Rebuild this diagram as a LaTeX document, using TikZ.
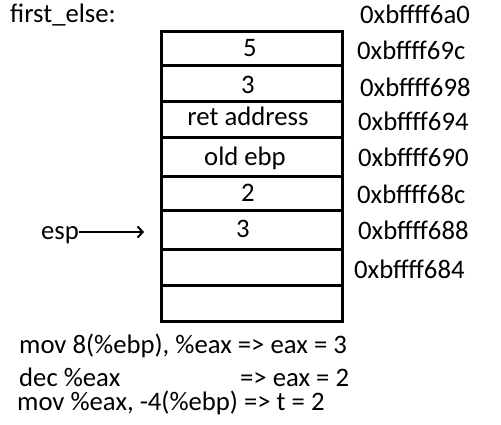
\documentclass[tikz,border=0pt]{standalone}
\usepackage{fontspec}
\setmainfont{Carlito}
\usetikzlibrary{arrows.meta}
\begin{document}
\begin{tikzpicture}[x=1pt,y=-1pt,
  txt/.style={inner sep=0pt,font=\fontsize{26.7}{32}\selectfont,anchor=base west},
  ctxt/.style={txt,anchor=base},
  cellline/.style={line width=3pt},
  ptr/.style={line width=2pt,-{Straight Barb[length=5pt,width=11pt,line width=2pt]}}]
\useasboundingbox (0,0) rectangle (501,425);
% stack cells
\draw[cellline] (161,31.5) rectangle (342,321.5);
\foreach \yy in {66,102,138,176.5,210.5,249,285}
  \draw[cellline] (161,\yy) -- (342,\yy);
% title
\node[txt] (title) at (10,23) {first\_else:};
% cell contents
\node[ctxt] (c1) at (250,57) {5};
\node[ctxt] (c2) at (248,94) {3};
\node[ctxt] (c3) at (248,126) {ret address};
\node[ctxt] (c4) at (245,166) {old ebp};
\node[ctxt] (c5) at (248,202) {2};
\node[ctxt] (c6) at (243,237) {3};
% addresses
\node[txt] (a0) at (360,24) {0xbffff6a0};
\node[txt] (a1) at (357,60) {0xbffff69c};
\node[txt] (a2) at (360,97) {0xbffff698};
\node[txt] (a3) at (358,131) {0xbffff694};
\node[txt] (a4) at (358,167) {0xbffff690};
\node[txt] (a5) at (357,204) {0xbffff68c};
\node[txt] (a6) at (358,239) {0xbffff688};
\node[txt] (a7) at (354,278) {0xbffff684};
% esp pointer
\node[txt] (esp) at (41,239) {esp};
\coordinate (espend) at (144,232);
\draw[ptr] (esp.east |- espend) -- (espend);
% instructions
\node[txt] (i1) at (19,353) {mov 8(\%ebp), \%eax => eax = 3};
\node[txt,text depth=0pt] (i2) at (19,386) {dec \%eax};
\node[txt,text depth=0pt] (i2r) at (240,386) {=> eax = 2};
\node[txt,text height=17pt] (i3) at (17,410) {mov \%eax, -4(\%ebp) => t = 2};
\end{tikzpicture}
\end{document}
